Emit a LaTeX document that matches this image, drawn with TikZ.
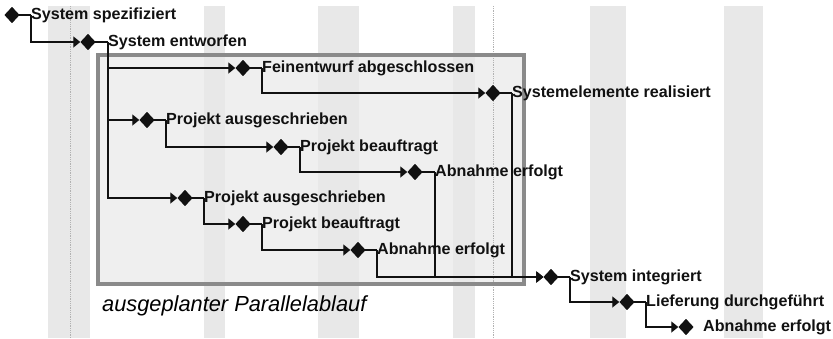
\documentclass[tikz,border=0pt]{standalone}
\usepackage{fontspec}
\setmainfont{Liberation Sans}
\usetikzlibrary{shapes.geometric,arrows.meta}
\definecolor{ink}{HTML}{111111}
\definecolor{boxfill}{HTML}{EFEFEF}
\definecolor{boxline}{HTML}{8A8A8A}
\definecolor{stripe}{HTML}{E8E8E8}
\tikzset{
  ms/.style={diamond,fill=ink,draw=none,inner sep=0pt,minimum width=15pt,minimum height=16pt},
  lbl/.style={anchor=base west,inner sep=0pt,text=ink,font=\fontsize{16.1}{18}\selectfont\bfseries},
  conn/.style={draw=ink,line width=1.3pt,-{Triangle[length=7pt,width=11pt]}},
  stub/.style={draw=ink,line width=1.3pt},
  stripebox/.style={fill=stripe,draw=none},
  gridline/.style={draw=black!30,densely dotted,line width=0.8pt},
  capt/.style={anchor=base west,inner sep=0pt,font=\fontsize{21.8}{24}\selectfont\itshape}
}
\begin{document}
\begin{tikzpicture}[x=1pt,y=-1pt]
\useasboundingbox (0,0) rectangle (833,338);
% box fill
\fill[boxfill] (98,55) rectangle (524,284);
% stripes
\foreach \a/\b in {48/90,204/225,318/359,453/475,590/626,724/763}
  \path[stripebox] (\a,6) rectangle (\b,338);
\draw[gridline] (70,6) -- (70,338);
\draw[gridline] (493,6) -- (493,338);
% box border
\draw[boxline,line width=4pt] (98,55) rectangle (524,284);
% milestones
\node[ms] (dA) at (12,15) {};
\node[ms] (dB) at (88,42) {};
\node[ms] (dC) at (243,68) {};
\node[ms] (dD) at (493,93) {};
\node[ms] (dE) at (147,120) {};
\node[ms] (dF) at (281,147) {};
\node[ms] (dG) at (415,172) {};
\node[ms] (dH) at (185,198) {};
\node[ms] (dI) at (243,224) {};
\node[ms] (dJ) at (358,250) {};
\node[ms] (dK) at (551,277) {};
\node[ms] (dL) at (627,302) {};
\node[ms] (dM) at (686,327) {};
% label anchors (stub ends)
\coordinate (cA) at (31,15);
\coordinate (cB) at (108,42);
\coordinate (cC) at (262,68);
\coordinate (cD) at (512,93);
\coordinate (cE) at (166,120);
\coordinate (cF) at (300,147);
\coordinate (cG) at (435,172);
\coordinate (cH) at (204,198);
\coordinate (cI) at (262,224);
\coordinate (cJ) at (377,250);
\coordinate (cK) at (570,277);
\coordinate (cL) at (646,302);
% stubs
\foreach \n in {A,B,C,D,E,F,G,H,I,J,K,L}
  \draw[stub] (d\n.center) -- (c\n);
% connectors
\draw[conn] (cA) |- (dB.west);
\draw[conn] (cB) |- (dC.west);
\draw[conn] (cB) |- (dE.west);
\draw[conn] (cB) |- (dH.west);
\draw[conn] (cC) |- (dD.west);
\draw[conn] (cE) |- (dF.west);
\draw[conn] (cF) |- (dG.west);
\draw[conn] (cH) |- (dI.west);
\draw[conn] (cI) |- (dJ.west);
\draw[conn] (cJ) |- (dK.west);
\draw[conn] (cG) |- (dK.west);
\draw[conn] (cD) |- (dK.west);
\draw[conn] (cK) |- (dL.west);
\draw[conn] (cL) |- (dM.west);
% redraw diamonds on top
\foreach \n in {A,B,C,D,E,F,G,H,I,J,K,L,M}
  \node[ms] at (d\n) {};
% labels
\node[lbl] (tA) at ([yshift=-4pt]cA) {System spezifiziert};
\node[lbl] (tB) at ([yshift=-4pt]cB) {System entworfen};
\node[lbl] (tC) at ([yshift=-4pt]cC) {Feinentwurf abgeschlossen};
\node[lbl] (tD) at ([yshift=-4pt]cD) {Systemelemente realisiert};
\node[lbl] (tE) at ([yshift=-4pt]cE) {Projekt ausgeschrieben};
\node[lbl] (tF) at ([yshift=-4pt]cF) {Projekt beauftragt};
\node[lbl] (tG) at ([yshift=-4pt]cG) {Abnahme erfolgt};
\node[lbl] (tH) at ([yshift=-4pt]cH) {Projekt ausgeschrieben};
\node[lbl] (tI) at ([yshift=-4pt]cI) {Projekt beauftragt};
\node[lbl] (tJ) at ([yshift=-4pt]cJ) {Abnahme erfolgt};
\node[lbl] (tK) at ([yshift=-4pt]cK) {System integriert};
\node[lbl] (tL) at ([yshift=-4pt]cL) {Lieferung durchgeführt};
\node[lbl] (tM) at (703,331) {Abnahme erfolgt};
% caption
\node[capt] (cap) at (102,311) {ausgeplanter Parallelablauf};
\end{tikzpicture}
\end{document}
